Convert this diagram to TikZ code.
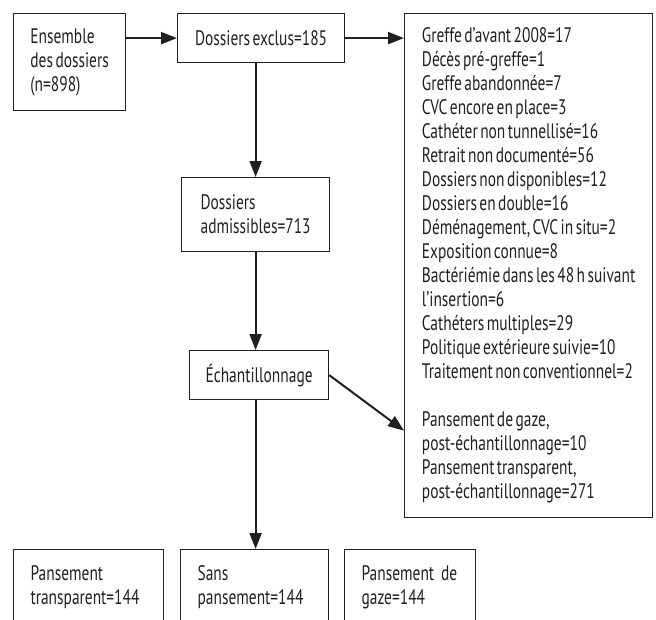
\documentclass[tikz,border=0pt]{standalone}
\usepackage{fontspec}
\setmainfont[FakeStretch=0.735,WordSpace=0.6]{PT Sans}
\usetikzlibrary{arrows.meta}
\definecolor{ink}{HTML}{231F20}

\begin{document}
\begin{tikzpicture}[x=1pt,y=-1pt,
    font=\fontsize{21pt}{24pt}\selectfont,
    box/.style={draw=ink,text=ink,line width=1.2pt,inner ysep=0pt,anchor=north west},
    leftbox/.style={box,align=left,inner xsep=0pt},
    openbox/.style={box,align=left,inner xsep=17pt,text height=31pt,text depth=100pt},
    arr/.style={draw=ink,line width=2pt,-{Triangle[length=16pt,width=12pt]}}]
                    \useasboundingbox(0,0)rectangle(656,619);
                    \clip(0,0)rectangle(656,619);
                    % boxes
                    \node[leftbox,minimum width=112pt,minimum height=97pt](ens)at(13,13){Ensemble\\des dossiers\\(n=898)};
                    \node[box,minimum width=167pt,minimum height=49pt](excl)at(177,13){Dossiers exclus=185};
                    \node[leftbox,minimum width=148pt,minimum height=74pt](adm)at(181,177){Dossiers\\admissibles=713};
                    \node[box,minimum width=139pt,minimum height=49pt](ech)at(189,350){Échantillonnage};
                    \node[leftbox,minimum width=248pt,minimum height=504pt](big)at(404,13){Greffe d’avant 2008=17\\
                        Décès pré-greffe=1\\
                        Greffe abandonnée=7\\
                        CVC encore en place=3\\
                        Cathéter non tunnellisé=16\\
                        Retrait non documenté=56\\
                        Dossiers non disponibles=12\\
                        Dossiers en double=16\\
                        Déménagement, CVC in situ=2\\
                        Exposition connue=8\\
                        Bactériémie dans les 48 h suivant\\
                        l’insertion=6\\
                        Cathéters multiples=29\\
                        Politique extérieure suivie=10\\
                        Traitement non conventionnel=2\\[24pt]
                        Pansement de gaze,\\
                        post-échantillonnage=10\\
                        Pansement transparent,\\
                        post-échantillonnage=271};
                    \node[openbox,text width=116pt](b1)at(13,549){Pansement\\transparent=144};
                    \node[openbox,text width=114pt](b2)at(180,549){Sans\\pansement=144};
                    \node[openbox,text width=97pt](b3)at(344,549){Pansement~de\\gaze=144};
                    % arrows
                    \draw[arr](ens.east|-excl.west)--(excl.west);
                    \draw[arr](excl.east)--(excl.east-|big.west);
                    \draw[arr](adm.north|-excl.south)--(adm.north);
                    \draw[arr](adm.south)--(adm.south|-ech.north);
                    \draw[arr](ech.east)--([yshift=-165pt]big.west);
                    \draw[arr](adm.south|-ech.south)--(adm.south|-b2.north);
                \end{tikzpicture}
\end{document}
